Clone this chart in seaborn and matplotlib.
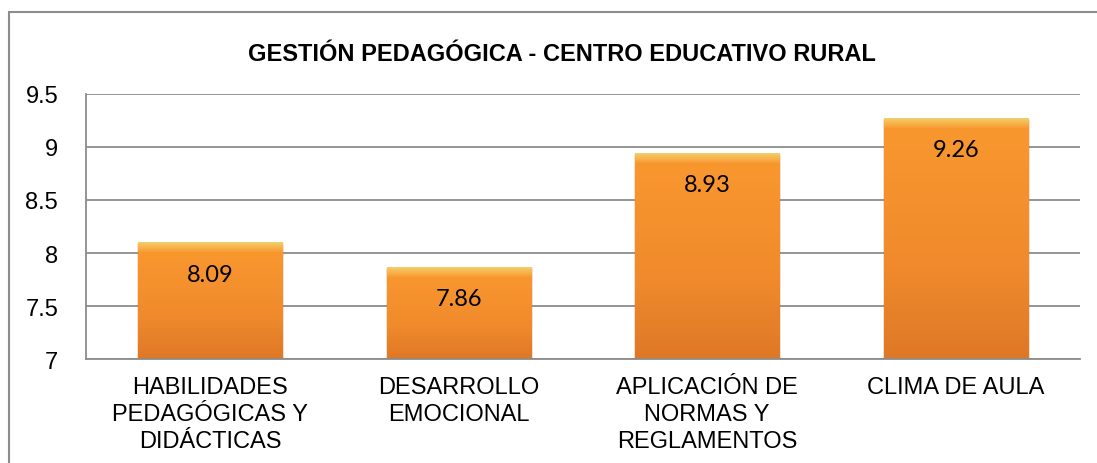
"""plot.py — Gestión pedagógica, centro educativo rural (bar chart)."""

import matplotlib
matplotlib.use("Agg")
import matplotlib.pyplot as plt
import matplotlib.patches as mpatches
import numpy as np
import pandas as pd
import seaborn as sns

categories = [
    "HABILIDADES\nPEDAGÓGICAS Y\nDIDÁCTICAS",
    "DESARROLLO\nEMOCIONAL",
    "APLICACIÓN DE\nNORMAS Y\nREGLAMENTOS",
    "CLIMA DE AULA",
]
scores = [8.09, 7.86, 8.93, 9.26]
y_ticks = [7, 7.5, 8, 8.5, 9, 9.5]
y_tick_labels = ["7", "7.5", "8", "8.5", "9", "9.5"]
title = "GESTIÓN PEDAGÓGICA - CENTRO EDUCATIVO RURAL"

df = pd.DataFrame({"categoria": categories, "valor": scores})

sns.set_theme(style="white")
plt.rcParams["font.family"] = ["Liberation Sans", "DejaVu Sans"]

fig = plt.figure(figsize=(10.97, 4.64), dpi=100)
ax = fig.add_axes([0.0784, 0.2241, 0.9061, 0.5712])

sns.barplot(data=df, x="categoria", y="valor", color="#F59331",
            width=0.58, saturation=1, edgecolor="#B8642A", linewidth=1.0,
            ax=ax, zorder=3)

ax.set_ylim(7, 9.5)
ax.set_xlim(-0.5, len(categories) - 0.5)

# Excel-style bevel: body gradient plus a thin light band at the top
grad = np.linspace(0, 1, 256).reshape(-1, 1)
body_cmap = matplotlib.colors.LinearSegmentedColormap.from_list(
    "body", [(0.0, "#DE7826"), (0.4, "#F08A2C"), (1.0, "#F9972F")])
band_cmap = matplotlib.colors.LinearSegmentedColormap.from_list(
    "band", [(0.0, "#F99A33"), (0.4, "#F8B049"), (1.0, "#F2CF6C")])
ymin = ax.get_ylim()[0]
band_h = 0.085
for bar in ax.patches:
    x0 = bar.get_x()
    w, top = bar.get_width(), bar.get_y() + bar.get_height()
    for cm, lo, hi in [(body_cmap, ymin, top - band_h),
                       (band_cmap, top - band_h, top)]:
        im = ax.imshow(grad, cmap=cm, aspect="auto", origin="lower",
                       extent=[x0, x0 + w, lo, hi],
                       zorder=3.5, interpolation="bilinear")
        im.set_clip_path(bar)
        im.set_clip_box(ax.bbox)
ax.set_ylim(7, 9.5)
ax.set_xlim(-0.5, len(categories) - 0.5)

ax.set_yticks(y_ticks)
ax.set_yticklabels(y_tick_labels)
ax.yaxis.grid(True, color="#8C8C8C", linewidth=1.3, zorder=0)
ax.set_axisbelow(True)
ax.set_xlabel("")
ax.set_ylabel("")
ax.tick_params(axis="y", length=0, pad=20, labelsize=17, labelcolor="black")
ax.tick_params(axis="x", length=0, pad=12, labelsize=17, labelcolor="black")
for lbl in ax.get_xticklabels():
    lbl.set_linespacing(1.3)
    lbl.set_verticalalignment("top")

for side in ["top", "right"]:
    ax.spines[side].set_visible(False)
for side in ["left", "bottom"]:
    ax.spines[side].set_color("#8C8C8C")
    ax.spines[side].set_linewidth(1.3)
    ax.spines[side].set_zorder(4)

for i, v in enumerate(scores):
    ax.annotate(f"{v:.2f}", xy=(i, v), xytext=(0, -22),
                textcoords="offset points", ha="center", va="center",
                fontsize=17, family=["Lato", "DejaVu Sans"],
                color="black", zorder=5)

fig.text(0.512, 0.882, title, ha="center", va="center",
         fontsize=17, fontweight="bold", color="black")

# outer chart-area border (right and bottom edges fall outside the image)
border = mpatches.Rectangle((0.0082, -0.05), 1.05, 1.022,
                            transform=fig.transFigure, fill=False,
                            edgecolor="#8C8C8C", linewidth=1.5,
                            clip_on=False)
fig.patches.append(border)

fig.savefig("out.png", dpi=100)
plt.close(fig)
